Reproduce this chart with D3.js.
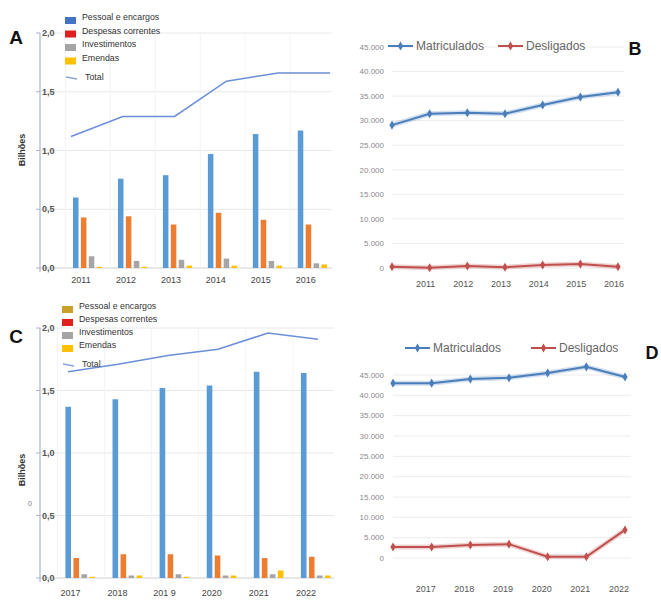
<!DOCTYPE html>
<html>
<head>
<meta charset="utf-8">
<script src="https://cdn.jsdelivr.net/npm/d3@7"></script>
<style>
  body { margin: 0; background: #fff; }
  svg { display: block; font-family: "Liberation Sans", Arial, sans-serif; }
</style>
</head>
<body>
<script>
// ---- data ----
const yearsA = ["2011", "2012", "2013", "2014", "2015", "2016"];
const pessoalA = [0.60, 0.76, 0.79, 0.97, 1.14, 1.17];
const despesasA = [0.43, 0.44, 0.37, 0.47, 0.41, 0.37];
const investA = [0.10, 0.06, 0.07, 0.08, 0.06, 0.04];
const emendasA = [0.01, 0.01, 0.02, 0.02, 0.02, 0.03];
const totalA = [1.12, 1.29, 1.29, 1.59, 1.66, 1.66];

const yearsC = ["2017", "2018", "2019", "2020", "2021", "2022"];
const yearLabelsC = ["2017", "2018", "201 9", "2020", "2021", "2022"];
const pessoalC = [1.37, 1.43, 1.52, 1.54, 1.65, 1.64];
const despesasC = [0.16, 0.19, 0.19, 0.18, 0.16, 0.17];
const investC = [0.03, 0.02, 0.03, 0.02, 0.03, 0.02];
const emendasC = [0.01, 0.02, 0.01, 0.02, 0.06, 0.02];
const totalC = [1.65, 1.71, 1.78, 1.83, 1.96, 1.91];

const billionTicks = [0, 0.5, 1.0, 1.5, 2.0];
const legendNames = ["Pessoal e encargos", "Despesas correntes", "Investimentos", "Emendas", "Total"];

const catsB = ["", "2011", "2012", "2013", "2014", "2015", "2016"];
const matricB = [29100, 31400, 31600, 31400, 33200, 34800, 35800];
const desligB = [250, 50, 400, 150, 600, 800, 250];

const catsD = ["", "2017", "2018", "2019", "2020", "2021", "2022"];
const matricD = [43000, 43000, 44000, 44300, 45500, 47000, 44500];
const desligD = [2700, 2700, 3200, 3400, 300, 300, 6900];

const countTicks = [0, 5000, 10000, 15000, 20000, 25000, 30000, 35000, 40000, 45000];

const barColors = ["#5b9bd5", "#ed7d31", "#a5a5a5", "#ffc000"];
const blueLine = "#4a7ebb", redLine = "#c0504d";

const ptBR = d3.formatLocale({decimal: ",", thousands: ".", grouping: [3], currency: ["", ""]});
const fmtBil = ptBR.format(".1f");
const fmtInt = ptBR.format(",d");

const svg = d3.select("body").append("svg").attr("width", 661).attr("height", 601);

function barPanel(o) {
  const g = svg.append("g");
  const x = d3.scaleBand().domain(o.years).range(o.bandRange).paddingInner(o.pi).paddingOuter(0.2);
  const sub = d3.scaleBand().domain(d3.range(4)).range([0, x.bandwidth()]).paddingInner(0.3);
  const y = d3.scaleLinear().domain([0, 2]).range(o.yRange);
  const xl = d3.scalePoint().domain(o.years).range(o.lineRange);

  // grid
  g.append("g").selectAll("line").data(billionTicks).join("line")
    .attr("x1", 40).attr("x2", o.right)
    .attr("y1", d => y(d)).attr("y2", d => y(d))
    .attr("stroke", d => d === 0 ? "#d0d0d0" : "#e8e8e8");
  g.append("g").selectAll("line").data(o.years).join("line")
    .attr("x1", d => x(d) - x.step() * 0.17).attr("x2", d => x(d) - x.step() * 0.17)
    .attr("y1", y(2)).attr("y2", y(0))
    .attr("stroke", "#f3f3f3");

  // axis line
  g.append("line").attr("x1", 40).attr("x2", 40).attr("y1", y(2)).attr("y2", y(0) + 4)
    .attr("stroke", "#a9b4d6").attr("stroke-width", 1.2);
  g.append("g").selectAll("line").data(billionTicks).join("line")
    .attr("x1", 36).attr("x2", 40).attr("y1", d => y(d)).attr("y2", d => y(d))
    .attr("stroke", "#a9b4d6");
  g.append("g").selectAll("text").data(billionTicks).join("text")
    .attr("x", 42).attr("y", d => y(d)).attr("dy", "0.35em")
    .attr("font-size", 9).attr("font-weight", "bold").attr("fill", "#555")
    .text(d => fmtBil(d));

  // bars
  const series = [o.pessoal, o.despesas, o.invest, o.emendas];
  series.forEach((vals, si) => {
    g.append("g").selectAll("rect").data(o.years).join("rect")
      .attr("x", d => x(d) + sub(si))
      .attr("width", sub.bandwidth())
      .attr("y", (d, i) => y(vals[i]))
      .attr("height", (d, i) => y(0) - y(vals[i]))
      .attr("fill", barColors[si]);
  });

  // total line
  g.append("path")
    .datum(o.total)
    .attr("fill", "none").attr("stroke", "#6a8fd8").attr("stroke-width", 1.6)
    .attr("d", d3.line().x((d, i) => xl(o.years[i])).y(d => y(d)));

  // x labels
  g.append("g").selectAll("text").data(o.years).join("text")
    .attr("x", d => x(d) + o.labelShift).attr("y", o.labelY)
    .attr("text-anchor", "middle").attr("font-size", 9).attr("fill", "#444")
    .text((d, i) => o.labels[i]);

  // y title
  g.append("text")
    .attr("transform", `translate(25,${o.titleY}) rotate(-90)`)
    .attr("text-anchor", "middle").attr("font-size", 9).attr("font-weight", "bold").attr("fill", "#333")
    .text("Bilhões");

  // legend
  const lg = g.append("g").attr("transform", `translate(${o.legX},${o.legY})`);
  o.legColors.forEach((c, i) => {
    lg.append("rect").attr("x", 0).attr("y", i * o.legStep - 3).attr("width", 11).attr("height", 7).attr("fill", c);
    lg.append("text").attr("x", 17).attr("y", i * o.legStep - 3).attr("dy", "0.35em")
      .attr("font-size", 8.8).attr("fill", "#333").text(legendNames[i]);
  });
  const ty = 4 * o.legStep + o.totalGap;
  lg.append("line").attr("x1", 1).attr("x2", 12).attr("y1", ty).attr("y2", ty + 2)
    .attr("stroke", "#8aa4dc").attr("stroke-width", 1.5);
  lg.append("text").attr("x", 20).attr("y", ty).attr("dy", "0.35em")
    .attr("font-size", 8.8).attr("fill", "#333").text(legendNames[4]);

  g.append("text").attr("x", 16).attr("y", o.letterY).attr("text-anchor", "middle")
    .attr("font-size", 19).attr("font-weight", "bold").attr("fill", "#111").text(o.letter);
}

barPanel({
  years: yearsA, labels: yearsA, pessoal: pessoalA, despesas: despesasA, invest: investA, emendas: emendasA, total: totalA,
  bandRange: [64, 336], pi: 0.35, yRange: [268, 33], lineRange: [71, 330], right: 332,
  labelShift: 8, labelY: 283, titleY: 150,
  legX: 65, legY: 20, legStep: 13.5, totalGap: 3,
  legColors: ["#4472c4", "#e0201c", "#a5a5a5", "#ffc000"],
  letter: "A", letterY: 44
});

barPanel({
  years: yearsC, labels: yearLabelsC, pessoal: pessoalC, despesas: despesasC, invest: investC, emendas: emendasC, total: totalC,
  bandRange: [56, 340], pi: 0.37, yRange: [578, 328], lineRange: [68, 318], right: 334,
  labelShift: 5, labelY: 596, titleY: 470,
  legX: 62, legY: 309, legStep: 13, totalGap: 3,
  legColors: ["#c9a02a", "#e0201c", "#a5a5a5", "#ffc000"],
  letter: "C", letterY: 343
});

svg.append("text").attr("x", 30).attr("y", 506).attr("text-anchor", "middle")
  .attr("font-size", 7).attr("fill", "#777").text("0");

function linePanel(o) {
  const g = svg.append("g");
  const x = d3.scalePoint().domain(o.cats).range(o.xRange);
  const y = d3.scaleLinear().domain([0, 45000]).range(o.yRange);

  g.append("g").selectAll("line").data(countTicks).join("line")
    .attr("x1", o.xRange[0]).attr("x2", o.xRange[1] + 6)
    .attr("y1", d => y(d)).attr("y2", d => y(d))
    .attr("stroke", "#ececec");
  g.append("g").selectAll("text").data(countTicks).join("text")
    .attr("x", 384).attr("y", d => y(d)).attr("dy", "0.35em").attr("text-anchor", "end")
    .attr("font-size", 8).attr("fill", "#8a8a8a")
    .text(d => fmtInt(d));

  g.append("g").selectAll("text").data(o.cats.filter(c => c)).join("text")
    .attr("x", d => x(d) + o.labelShift).attr("y", o.labelY).attr("text-anchor", "middle")
    .attr("font-size", 9).attr("fill", "#555").text(d => d);

  const series = [[o.matric, blueLine], [o.deslig, redLine]];
  series.forEach(([vals, col]) => {
    const line = d3.line().x((d, i) => x(o.cats[i])).y(d => y(d));
    g.append("path").datum(vals).attr("fill", "none")
      .attr("stroke", col).attr("stroke-opacity", 0.25).attr("stroke-width", 5).attr("d", line);
    g.append("path").datum(vals).attr("fill", "none")
      .attr("stroke", col).attr("stroke-width", 2).attr("d", line);
    g.append("g").selectAll("path").data(vals).join("path")
      .attr("transform", (d, i) => `translate(${x(o.cats[i])},${y(d)})`)
      .attr("d", d3.symbol(d3.symbolDiamond, 24)).attr("fill", col);
  });

  // legend
  const lg = g.append("g").attr("transform", `translate(0,${o.legY})`);
  const items = [["Matriculados", blueLine, o.leg1], ["Desligados", redLine, o.leg2]];
  items.forEach(([name, col, lx]) => {
    lg.append("line").attr("x1", lx).attr("x2", lx + 25).attr("stroke", col).attr("stroke-width", 2);
    lg.append("path").attr("transform", `translate(${lx + 12.5},0)`)
      .attr("d", d3.symbol(d3.symbolDiamond, 24)).attr("fill", col);
    lg.append("text").attr("x", lx + 28).attr("dy", "0.35em")
      .attr("font-size", 12).attr("fill", "#666").text(name);
  });

  g.append("text").attr("x", o.letterX).attr("y", o.letterY).attr("text-anchor", "middle")
    .attr("font-size", 18).attr("font-weight", "bold").attr("fill", "#111").text(o.letter);
}

linePanel({
  cats: catsB, matric: matricB, deslig: desligB,
  xRange: [392, 618], yRange: [268, 47], labelShift: -4, labelY: 287,
  legY: 46, leg1: 388, leg2: 498, letter: "B", letterX: 635, letterY: 55
});

linePanel({
  cats: catsD, matric: matricD, deslig: desligD,
  xRange: [393, 625], yRange: [558, 375], labelShift: -6, labelY: 592,
  legY: 348, leg1: 405, leg2: 531, letter: "D", letterX: 652, letterY: 359
});
</script>
</body>
</html>
